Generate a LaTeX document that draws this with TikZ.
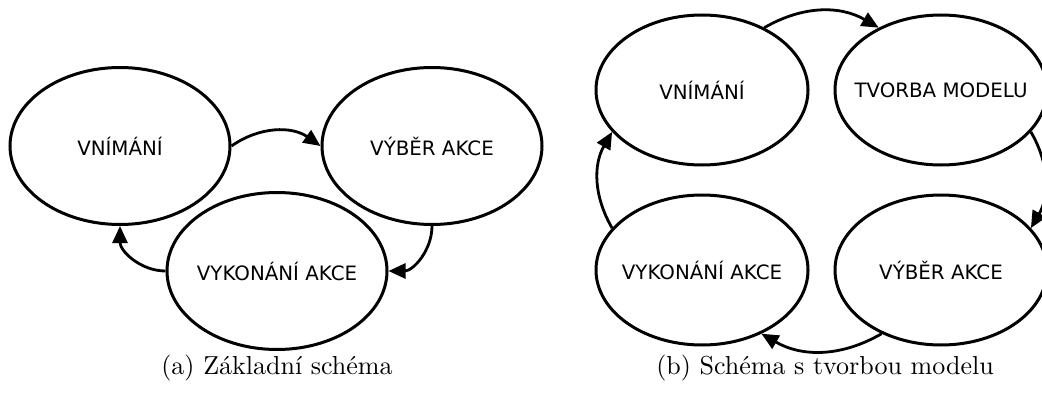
\documentclass[tikz,border=0pt]{standalone}
\usepackage{fontspec}
\newfontfamily\dvs{DejaVu Sans}
\usetikzlibrary{shapes.geometric,arrows.meta}
\tikzset{
  stateL/.style={draw, ellipse, line width=3pt, inner sep=0pt,
    minimum width=220pt, minimum height=157pt, font=\dvs\fontsize{19.8}{22}\selectfont},
  stateR/.style={draw, ellipse, line width=3pt, inner sep=0pt,
    minimum width=212pt, minimum height=150pt, font=\dvs\fontsize{19.8}{22}\selectfont},
  arr/.style={line width=2.8pt, -{Triangle[length=17pt,width=15pt]}},
  capt/.style={inner sep=0pt}
}
\newcommand{\lab}[1]{\makebox[0pt]{#1}}
\begin{document}
\begin{tikzpicture}[x=1pt,y=1pt]
\clip (0,0) rectangle (1042,392);
% (a)
\node[stateL] (v1) at (120,246) {\lab{VNÍMÁNÍ}};
\node[stateL] (a1) at (432,246) {\lab{VÝBĚR AKCE}};
\node[stateL] (k1) at (277,121) {\lab{VYKONÁNÍ AKCE}};
\draw[arr] (v1.east) to[bend left=35] (a1.west);
\draw[arr] (a1.south) to[out=-90,in=0] (k1.east);
\draw[arr] (k1.west) to[out=180,in=-90] (v1.south);
\node[capt] (ca) at (277,24) {\scalebox{2.6}{(a) Základní schéma}};
% (b)
\node[stateR] (v2) at (702,302) {\lab{VNÍMÁNÍ}};
\node[stateR] (t2) at (941,302) {\lab{TVORBA MODELU}};
\node[stateR] (k2) at (702,122) {\lab{VYKONÁNÍ AKCE}};
\node[stateR] (a2) at (941,122) {\lab{VÝBĚR AKCE}};
\draw[arr] (v2.45) to[bend left=30] (t2.135);
\draw[arr] (t2.-25) to[bend left=30] (a2.25);
\draw[arr] (a2.-133) to[bend left=30] (k2.-47);
\draw[arr] (k2.155) to[bend left=30] (v2.205);
\node[capt] (cb) at (825,24) {\scalebox{2.6}{(b) Schéma s tvorbou modelu}};
\end{tikzpicture}
\end{document}
